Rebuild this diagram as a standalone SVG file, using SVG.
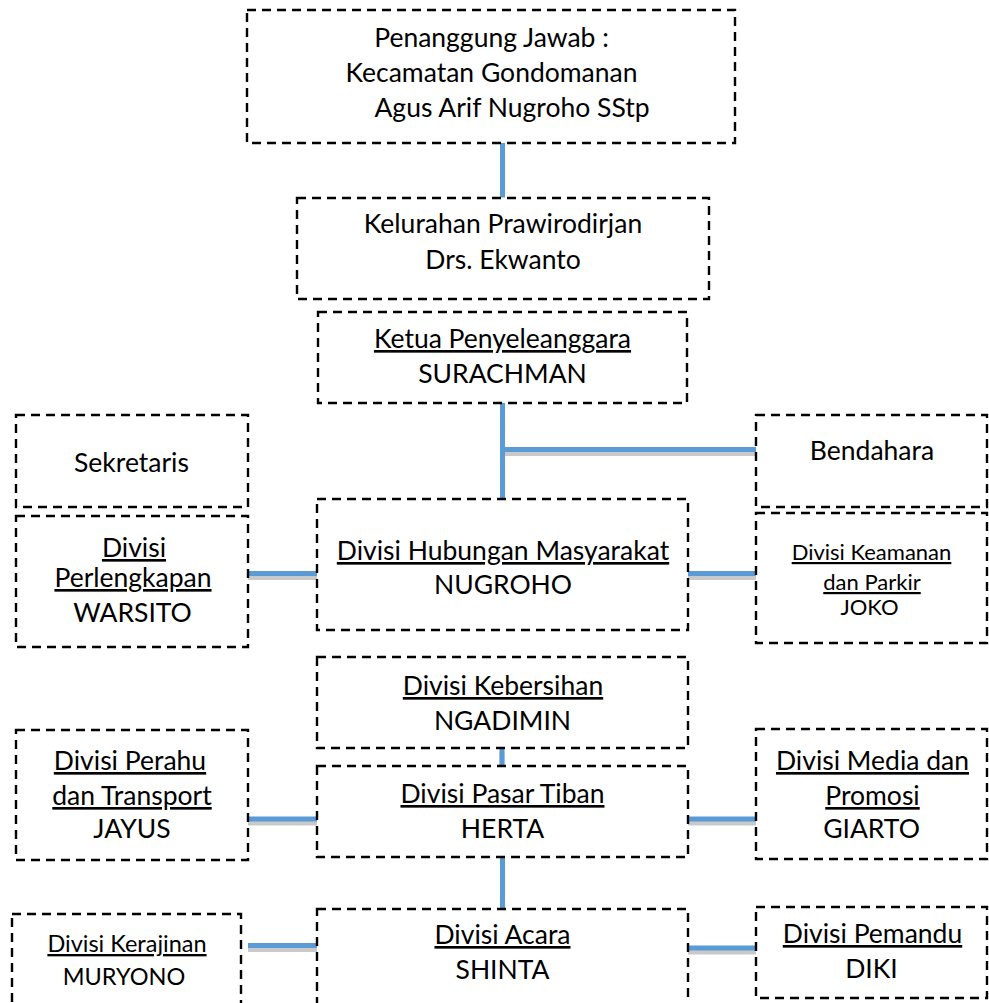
<svg xmlns="http://www.w3.org/2000/svg" width="989" height="1003" viewBox="0 0 989 1003">
<style>
.box{fill:#fff;stroke:#000;stroke-width:2.4;stroke-dasharray:9 6}
text{font-family:Lato,"Liberation Sans",sans-serif;font-size:26.5px;fill:#000;text-anchor:middle}
.u{text-decoration:underline}
.s{font-size:22px}
.k{font-size:23.5px}
.ln{stroke:#5B9BD5;stroke-width:5;fill:none}
.sh{stroke:#C9C9C9;stroke-width:5;fill:none}
</style>
<rect width="989" height="1003" fill="#fff"/>
<g id="connectors">
<g transform="translate(0,4)">
<path class="sh" d="M502.5 143V197M502.5 403V499M502.5 449.5H756M248 573.5H317M687 573.5H757M248 819H317M687 819H757M502 748V766M502.5 857V909M248 945.5H317M687 948H757"/>
</g>
<path class="ln" d="M502.5 143V197M502.5 403V499M502.5 449.5H756M248 573.5H317M687 573.5H757M248 819H317M687 819H757M502 748V766M502.5 857V909M248 945.5H317M687 948H757"/>
</g>
<g id="n1"><rect class="box" x="247" y="10" width="488" height="133"/>
<text x="491.5" y="47">Penanggung Jawab :</text>
<text x="491.5" y="82">Kecamatan Gondomanan</text>
<text x="512" y="117">Agus Arif Nugroho SStp</text></g>
<g id="n2"><rect class="box" x="297" y="198" width="412" height="101"/>
<text x="503" y="233">Kelurahan Prawirodirjan</text>
<text x="503" y="269">Drs. Ekwanto</text></g>
<g id="n3"><rect class="box" x="318" y="312" width="369" height="91"/>
<text x="502.5" y="348" class="u">Ketua Penyeleanggara</text>
<text x="502.5" y="383">SURACHMAN</text></g>
<g id="sekretaris"><rect class="box" x="16" y="415" width="232" height="92"/>
<text x="131.5" y="472">Sekretaris</text></g>
<g id="bendahara"><rect class="box" x="756" y="415" width="231" height="92"/>
<text x="872" y="460">Bendahara</text></g>
<g id="perlengkapan"><rect class="box" x="16" y="516" width="232" height="131"/>
<text x="134" y="557" class="u">Divisi</text>
<text x="133" y="587" class="u">Perlengkapan</text>
<text x="132.5" y="622">WARSITO</text></g>
<g id="humas"><rect class="box" x="317" y="499" width="371" height="131"/>
<text x="503" y="560" class="u">Divisi Hubungan Masyarakat</text>
<text x="503" y="594">NUGROHO</text></g>
<g id="keamanan"><rect class="box" x="756" y="513" width="231" height="130"/>
<text x="871.5" y="560" class="u s">Divisi Keamanan</text>
<text x="872" y="590" class="u s">dan Parkir</text>
<text x="869.5" y="615" class="s">JOKO</text></g>
<g id="kebersihan"><rect class="box" x="317" y="657" width="371" height="91"/>
<text x="503" y="695" class="u">Divisi Kebersihan</text>
<text x="502.5" y="730">NGADIMIN</text></g>
<g id="perahu"><rect class="box" x="16" y="730" width="232" height="130"/>
<text x="130" y="770" class="u">Divisi Perahu</text>
<text x="132" y="805" class="u">dan Transport</text>
<text x="132" y="838">JAYUS</text></g>
<g id="pasar"><rect class="box" x="317" y="766" width="371" height="91"/>
<text x="502.5" y="803" class="u">Divisi Pasar Tiban</text>
<text x="502.5" y="838">HERTA</text></g>
<g id="media"><rect class="box" x="756" y="729" width="231" height="130"/>
<text x="872.5" y="770" class="u">Divisi Media dan</text>
<text x="872.5" y="805" class="u">Promosi</text>
<text x="871.5" y="838">GIARTO</text></g>
<g id="kerajinan"><rect class="box" x="12" y="914" width="229" height="100"/>
<text x="127" y="952" class="u k">Divisi Kerajinan</text>
<text x="124" y="985" class="k">MURYONO</text></g>
<g id="acara"><rect class="box" x="317" y="909" width="371" height="105"/>
<text x="502.5" y="944" class="u">Divisi Acara</text>
<text x="502.5" y="979">SHINTA</text></g>
<g id="pemandu"><rect class="box" x="756" y="907" width="231" height="91"/>
<text x="872.5" y="943" class="u">Divisi Pemandu</text>
<text x="871.5" y="978">DIKI</text></g>
</svg>
